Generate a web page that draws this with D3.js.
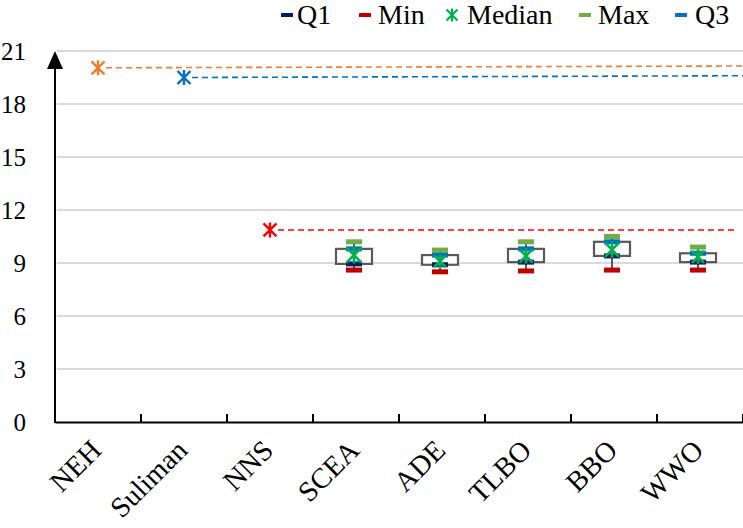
<!DOCTYPE html>
<html><head><meta charset="utf-8">
<script src="https://cdn.jsdelivr.net/npm/d3@7"></script>
<style>body{margin:0;background:#fff}svg{display:block}svg text{font-family:"Liberation Serif",Tinos,"Times New Roman",Times,"DejaVu Serif",serif}</style>
</head><body><svg id="c" width="743" height="528"></svg>
<script>
const categories = ["NEH","Suliman","NNS","SCEA","ADE","TLBO","BBO","WWO"];
const yTicks = [0,3,6,9,12,15,18,21];
// single-value methods (start value, value at right end of dashed line)
const singleNames = ["NEH","Suliman","NNS"];
const singleStart = [20.05, 19.5, 10.87];
const singleEnd = [20.15, 19.6, 10.87];
const singleColors = ["#ED7D31","#0070C0","#FF0000"];
// box-plot methods
const boxNames = ["SCEA","ADE","TLBO","BBO","WWO"];
const minVals = [8.6, 8.5, 8.55, 8.6, 8.6];
const q1Vals = [8.95, 8.9, 9.05, 9.4, 9.05];
const medianVals = [9.45, 9.1, 9.4, 9.75, 9.35];
const q3Vals = [9.8, 9.45, 9.8, 10.2, 9.55];
const maxVals = [10.2, 9.73, 10.2, 10.5, 9.9];
const legendNames = ["Q1","Min","Median","Max","Q3"];
const legendColors = ["#002060","#C00000","#00B050","#70AD47","#0070C0"];

const svg = d3.select("#c");
const L = 55, R = 743, T = 51, B = 422;
const x = d3.scaleBand().domain(categories).range([L, R]);
const y = d3.scaleLinear().domain([0, 21]).range([B, T]);
const cx = n => x(n) + x.bandwidth()/2;

// grid
svg.append("g").selectAll("line").data(yTicks.filter(d=>d>0)).join("line")
  .attr("x1", L+2).attr("x2", R).attr("y1", d=>y(d)).attr("y2", d=>y(d))
  .attr("stroke", "#D9D9D9").attr("stroke-width", 2);

// y tick labels
svg.append("g").selectAll("text").data(yTicks).join("text")
  .attr("x", 26).attr("y", d=>y(d)).attr("dy", "0.35em").attr("text-anchor","end")
  .style("font-size", "25px").attr("fill","#000").text(d=>d);

// x axis with inward ticks
const xAxis = d3.axisBottom(x).tickSize(0).tickFormat("");
const gx = svg.append("g").attr("transform", `translate(0,${B})`).call(xAxis);
gx.select(".domain").attr("stroke","#000").attr("stroke-width",2);
svg.append("g").selectAll("line").data(d3.range(1, categories.length+1)).join("line")
  .attr("x1", i=>L + i*x.bandwidth()).attr("x2", i=>L + i*x.bandwidth())
  .attr("y1", B).attr("y2", B-8).attr("stroke","#000").attr("stroke-width",2);

// y axis with arrow
svg.append("line").attr("x1", L).attr("x2", L).attr("y1", B+1).attr("y2", T+14)
  .attr("stroke","#000").attr("stroke-width",2);
svg.append("path").attr("d", `M${L},${T} L${L-8},${T+18} L${L+8},${T+18} Z`).attr("fill","#000");

// x labels
svg.append("g").selectAll("text").data(categories).join("text")
  .attr("transform", d=>`translate(${cx(d)+5},${B+30}) rotate(-45)`)
  .attr("text-anchor","end").style("font-size", "28.5px")
  .attr("fill","#000").text(d=>d);

function star(g, px, py, s, color, w){
  const h = s/2;
  g.append("path").attr("d", `M${px-h},${py-h}L${px+h},${py+h}M${px-h},${py+h}L${px+h},${py-h}M${px},${py-h-1}L${px},${py+h+1}`)
    .attr("stroke", color).attr("stroke-width", w).attr("fill","none");
}

// single markers + dashed lines
singleNames.forEach((n,i)=>{
  svg.append("line").attr("x1", cx(n)+8).attr("x2", i===2 ? R-8 : R)
    .attr("y1", y(singleStart[i])).attr("y2", y(singleEnd[i]))
    .attr("stroke", singleColors[i]).attr("stroke-width", 1.6).attr("stroke-dasharray","6,4");
  star(svg, cx(n), y(singleStart[i]), 13, singleColors[i], 2.4);
});

// boxes
const bw = 36, mw = 16, mh = 5;
boxNames.forEach((n,i)=>{
  const c = cx(n) - 2;
  svg.append("line").attr("x1", c).attr("x2", c).attr("y1", y(maxVals[i])).attr("y2", y(minVals[i]))
    .attr("stroke","#595959").attr("stroke-width",2);
  svg.append("rect").attr("x", c-bw/2).attr("width", bw)
    .attr("y", y(q3Vals[i])).attr("height", y(q1Vals[i]) - y(q3Vals[i]))
    .attr("fill","#fff").attr("stroke","#595959").attr("stroke-width",2.2);
  const dash = (v,col)=>svg.append("rect").attr("x", c-mw/2).attr("width", mw)
    .attr("y", y(v)-mh/2).attr("height", mh).attr("fill", col);
  dash(maxVals[i], "#70AD47");
  dash(minVals[i], "#C00000");
  dash(q3Vals[i], "#0070C0");
  dash(q1Vals[i], "#002060");
  const hs = (y(q1Vals[i]) - y(q3Vals[i]));
  star(svg, c, y(medianVals[i]), Math.max(12, Math.min(16, hs)), "#00B050", 2.6);
});

// legend
const legX = [287, 365, 452, 585, 681];
const legTX = [297, 378, 467, 598, 695];
legendNames.forEach((n,i)=>{
  if (n === "Median") star(svg, legX[i], 15, 11, legendColors[i], 2.2);
  else svg.append("rect").attr("x", legX[i]-6).attr("width", 12).attr("y", 13).attr("height", 4).attr("fill", legendColors[i]);
  svg.append("text").attr("x", legTX[i]).attr("y", 24).style("font-size", "28px")
    .attr("fill","#000").text(n);
});
</script></body></html>
